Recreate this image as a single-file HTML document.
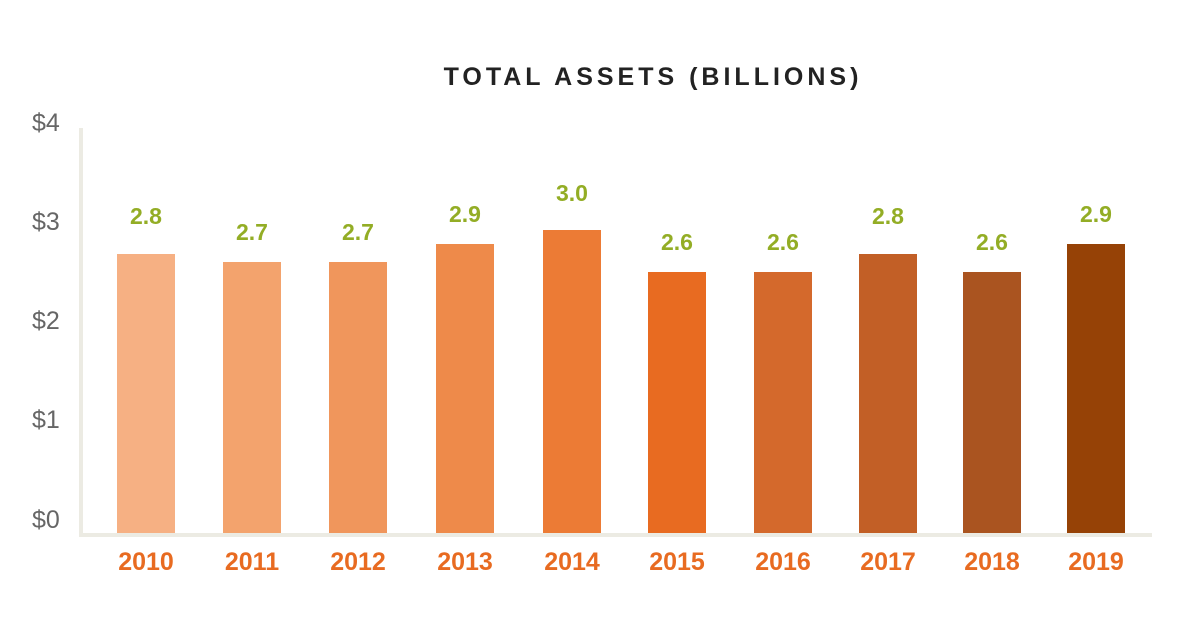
<!DOCTYPE html>
<html><head><meta charset="utf-8"><style>
html,body{margin:0;padding:0;background:#fff;}
.c{position:relative;width:1200px;height:628px;overflow:hidden;font-family:"Liberation Sans",Arial,sans-serif;}
.t{position:absolute;left:0;width:1306px;top:63px;text-align:center;font-weight:bold;font-size:25px;letter-spacing:4px;color:#222;}
.y{position:absolute;left:32px;width:40px;text-align:left;font-size:25px;color:#666;}
.b{position:absolute;width:58px;bottom:95px;}
.v{position:absolute;width:100px;text-align:center;font-weight:bold;font-size:23px;color:#93ad25;}
.x{position:absolute;top:548px;width:100px;text-align:center;font-weight:bold;font-size:25px;color:#e86b21;}
</style></head><body><div class="c">
<div class="t">TOTAL ASSETS (BILLIONS)</div>
<div style="position:absolute;left:79px;top:128px;width:4px;height:409px;background:#ecebe3"></div>
<div style="position:absolute;left:79px;top:533px;width:1073px;height:4px;background:#ecebe3"></div>
<div class="y" style="top:109px">$4</div>
<div class="y" style="top:208px">$3</div>
<div class="y" style="top:307px">$2</div>
<div class="y" style="top:406px">$1</div>
<div class="y" style="top:506px">$0</div>

<div class="b" style="left:117px;top:254px;background:#f6b083"></div>
<div class="b" style="left:223px;top:262px;background:#f3a36d"></div>
<div class="b" style="left:329px;top:262px;background:#f0965c"></div>
<div class="b" style="left:436px;top:244px;background:#ee8a4a"></div>
<div class="b" style="left:543px;top:230px;background:#ec7b35"></div>
<div class="b" style="left:648px;top:272px;background:#e86b21"></div>
<div class="b" style="left:754px;top:272px;background:#d4692c"></div>
<div class="b" style="left:859px;top:254px;background:#c25f26"></div>
<div class="b" style="left:963px;top:272px;background:#aa5420"></div>
<div class="b" style="left:1067px;top:244px;background:#964206"></div>

<div class="v" style="left:96px;top:203px">2.8</div>
<div class="v" style="left:202px;top:219px">2.7</div>
<div class="v" style="left:308px;top:219px">2.7</div>
<div class="v" style="left:415px;top:201px">2.9</div>
<div class="v" style="left:522px;top:180px">3.0</div>
<div class="v" style="left:627px;top:229px">2.6</div>
<div class="v" style="left:733px;top:229px">2.6</div>
<div class="v" style="left:838px;top:203px">2.8</div>
<div class="v" style="left:942px;top:229px">2.6</div>
<div class="v" style="left:1046px;top:201px">2.9</div>

<div class="x" style="left:96px">2010</div>
<div class="x" style="left:202px">2011</div>
<div class="x" style="left:308px">2012</div>
<div class="x" style="left:415px">2013</div>
<div class="x" style="left:522px">2014</div>
<div class="x" style="left:627px">2015</div>
<div class="x" style="left:733px">2016</div>
<div class="x" style="left:838px">2017</div>
<div class="x" style="left:942px">2018</div>
<div class="x" style="left:1046px">2019</div>
</div></body></html>
